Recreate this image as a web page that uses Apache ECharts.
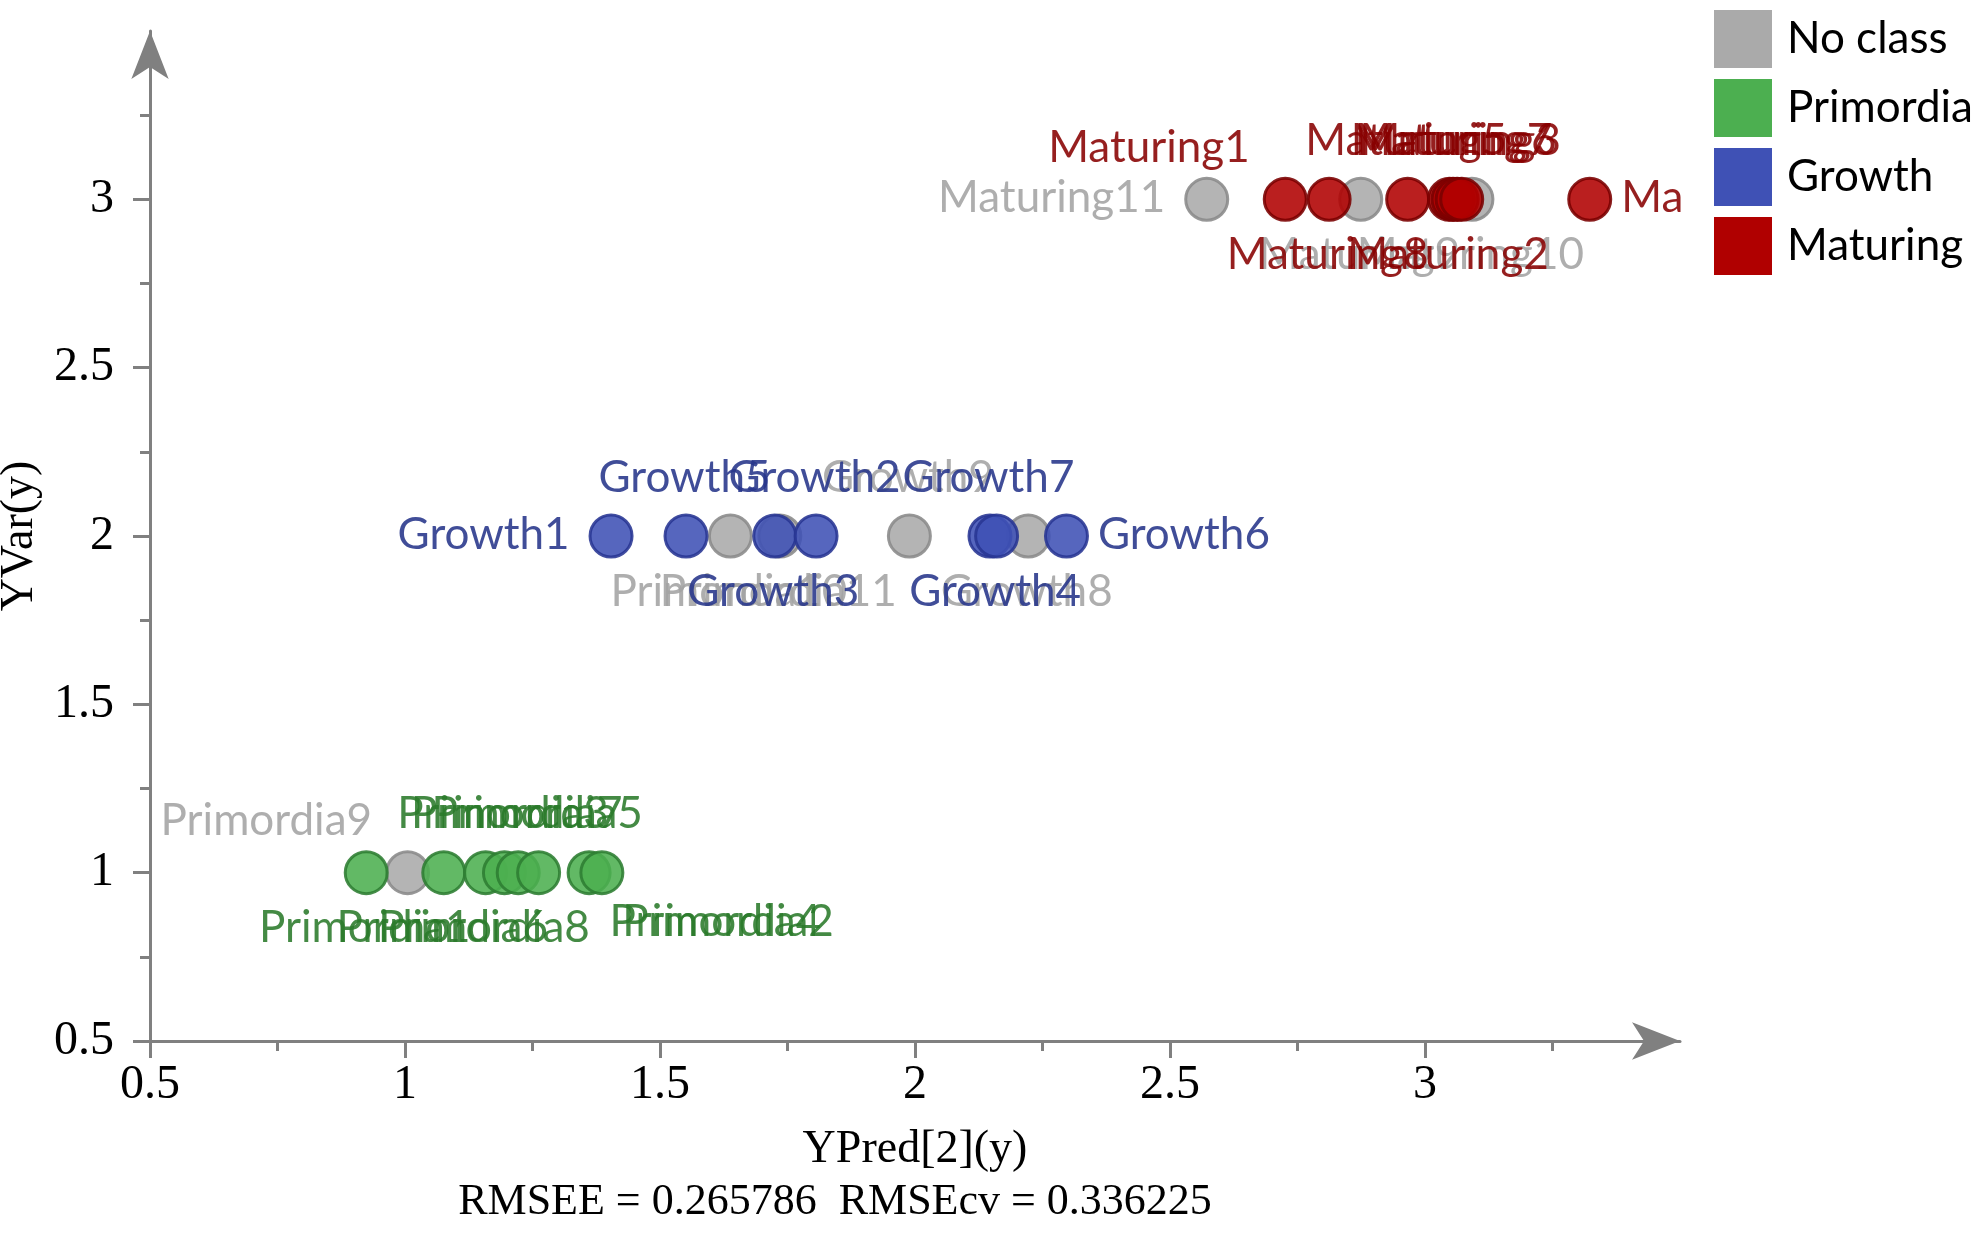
<!DOCTYPE html>
<html>
<head>
<meta charset="utf-8">
<script src="https://cdn.jsdelivr.net/npm/echarts@6/dist/echarts.min.js"></script>
<style>
  html, body { margin: 0; padding: 0; background: #fff; }
  #chart { width: 1980px; height: 1234px; }
</style>
</head>
<body>
<div id="chart"></div>
<script>
const noClassNames = ['Primordia9', 'Primordia10', 'Primordia11', 'Growth9', 'Growth8', 'Maturing11', 'Maturing9', 'Maturing10']
const noClassPred = [1.005, 1.638, 1.735, 1.989, 2.222, 2.572, 2.874, 3.092]
const noClassVar = [1, 2, 2, 2, 2, 3, 3, 3]
const noClassSide = ['topLeft', 'bottom', 'bottom', 'top', 'bottom', 'left', 'bottom', 'bottom']

const primordiaNames = ['Primordia1', 'Primordia6', 'Primordia8', 'Primordia3', 'Primordia7', 'Primordia5', 'Primordia4', 'Primordia2']
const primordiaPred = [0.924, 1.076, 1.158, 1.195, 1.222, 1.262, 1.361, 1.386]
const primordiaVar = [1, 1, 1, 1, 1, 1, 1, 1]
const primordiaSide = ['bottom', 'bottom', 'bottom', 'top', 'top', 'top', 'bottomRight', 'bottomRight']

const growthNames = ['Growth1', 'Growth5', 'Growth3', 'Growth2', 'Growth7', 'Growth4', 'Growth6']
const growthPred = [1.404, 1.551, 1.725, 1.806, 2.147, 2.160, 2.297]
const growthVar = [2, 2, 2, 2, 2, 2, 2]
const growthSide = ['left', 'top', 'bottom', 'top', 'top', 'bottom', 'right']

const maturingNames = ['Maturing1', 'Maturing8', 'Maturing5', 'Maturing2', 'Maturing7', 'Maturing6', 'Maturing3', 'Maturing4']
const maturingPred = [2.726, 2.812, 2.966, 3.048, 3.055, 3.063, 3.072, 3.323]
const maturingVar = [3, 3, 3, 3, 3, 3, 3, 3]
const maturingSide = ['topLeft', 'bottom', 'top', 'bottom', 'top', 'top', 'top', 'rightClipped']

const xTicks = [0.5, 1, 1.5, 2, 2.5, 3]
const yTicks = [0.5, 1, 1.5, 2, 2.5, 3]

const SIZE = 42
const LABEL_FONT = 'Lato, "Noto Sans", sans-serif'
const AXIS_FONT = '"Liberation Serif", "DejaVu Serif", serif'
const AXIS_GRAY = '#808080'

function labelFor(side) {
    let c = SIZE / 2
    let l = { verticalAlign: 'middle' }
    if (side == 'top') { l.position = [c, c - 57]; l.align = 'center' }
    if (side == 'bottom') { l.position = [c, c + 57]; l.align = 'center' }
    if (side == 'left') { l.position = [c - 40, c]; l.align = 'right' }
    if (side == 'right' || side == 'rightClipped') { l.position = [c + 33, c]; l.align = 'left' }
    if (side == 'topLeft') { l.position = [c - 34, c - 50]; l.align = 'right' }
    if (side == 'bottomRight') { l.position = [c + 22, c + 51]; l.align = 'left' }
    if (side == 'rightClipped') {
        // the plot cuts this label at the end of the x axis
        l.width = 70
        l.overflow = 'truncate'
        l.ellipsis = ''
    }
    return l
}

function makeSeries(name, names, pred, yvar, sides, fill, border, text) {
    let data = []
    for (let i in names) {
        data.push({
            name: names[i],
            value: [pred[i], yvar[i]],
            label: labelFor(sides[i])
        })
    }
    return {
        name: name,
        type: 'scatter',
        symbol: 'circle',
        symbolSize: SIZE,
        itemStyle: { color: fill, borderColor: border, borderWidth: 3, opacity: 0.88 },
        label: {
            show: true,
            formatter: '{b}',
            color: text,
            fontFamily: LABEL_FONT,
            fontSize: 44
        },
        emphasis: { disabled: true },
        data: data
    }
}

function tickFormatter(list) {
    return function (v) {
        return list.indexOf(v) >= 0 ? String(v) : ''
    }
}

let chart = echarts.init(document.getElementById('chart'), null, { renderer: 'canvas' })
let option = {
    animation: false,
    backgroundColor: '#fff',
    grid: { left: 150, right: 300, top: 31, bottom: 193, outerBoundsMode: 'none' },
    legend: {
        orient: 'vertical',
        left: 1714,
        top: 10,
        padding: 0,
        itemWidth: 58,
        itemHeight: 58,
        itemGap: 11,
        icon: 'rect',
        itemStyle: { borderWidth: 0, opacity: 1 },
        textStyle: { color: '#000', fontFamily: LABEL_FONT, fontSize: 44, padding: [0, 0, 0, 10] },
        data: ['No class', 'Primordia', 'Growth', 'Maturing']
    },
    xAxis: {
        type: 'value',
        min: 0.5,
        max: 3.5,
        interval: 0.5,
        name: 'YPred[2](y)',
        nameLocation: 'middle',
        nameGap: 86,
        nameTextStyle: { color: '#000', fontFamily: AXIS_FONT, fontSize: 46 },
        splitLine: { show: false },
        axisLine: {
            lineStyle: { color: AXIS_GRAY, width: 3 },
            symbol: ['none', 'arrow'],
            symbolSize: [28, 48],
            symbolOffset: [0, 0]
        },
        axisTick: { length: 17, customValues: xTicks, lineStyle: { color: AXIS_GRAY, width: 3 } },
        minorTick: { show: true, splitNumber: 2, length: 10, lineStyle: { color: AXIS_GRAY, width: 3 } },
        axisLabel: {
            margin: 20,
            color: '#000',
            fontFamily: AXIS_FONT,
            fontSize: 48,
            formatter: tickFormatter(xTicks)
        }
    },
    yAxis: {
        type: 'value',
        min: 0.5,
        max: 3.5,
        interval: 0.5,
        name: 'YVar(y)',
        nameLocation: 'middle',
        nameGap: 100,
        nameTextStyle: { color: '#000', fontFamily: AXIS_FONT, fontSize: 46 },
        splitLine: { show: false },
        axisLine: {
            show: true,
            lineStyle: { color: AXIS_GRAY, width: 3 },
            symbol: ['none', 'arrow'],
            symbolSize: [28, 48],
            symbolOffset: [0, 0]
        },
        axisTick: { show: true, length: 17, customValues: yTicks, lineStyle: { color: AXIS_GRAY, width: 3 } },
        minorTick: { show: true, splitNumber: 2, length: 10, lineStyle: { color: AXIS_GRAY, width: 3 } },
        axisLabel: {
            margin: 36,
            color: '#000',
            fontFamily: AXIS_FONT,
            fontSize: 48,
            formatter: tickFormatter(yTicks)
        }
    },
    graphic: [{
        type: 'text',
        x: 835,
        y: 1202,
        style: {
            text: 'RMSEE = 0.265786  RMSEcv = 0.336225',
            fill: '#000',
            font: '44px ' + AXIS_FONT,
            align: 'center',
            verticalAlign: 'middle'
        }
    }],
    series: [
        makeSeries('No class', noClassNames, noClassPred, noClassVar, noClassSide, '#aaaaaa', '#8a8a8a', '#a3a3a3'),
        makeSeries('Primordia', primordiaNames, primordiaPred, primordiaVar, primordiaSide, '#4caf50', '#2e7d32', '#2a7a2a'),
        makeSeries('Growth', growthNames, growthPred, growthVar, growthSide, '#3f51b5', '#283593', '#25348a'),
        makeSeries('Maturing', maturingNames, maturingPred, maturingVar, maturingSide, '#b00000', '#7a0000', '#870000')
    ]
}
chart.setOption(option)
</script>
</body>
</html>
